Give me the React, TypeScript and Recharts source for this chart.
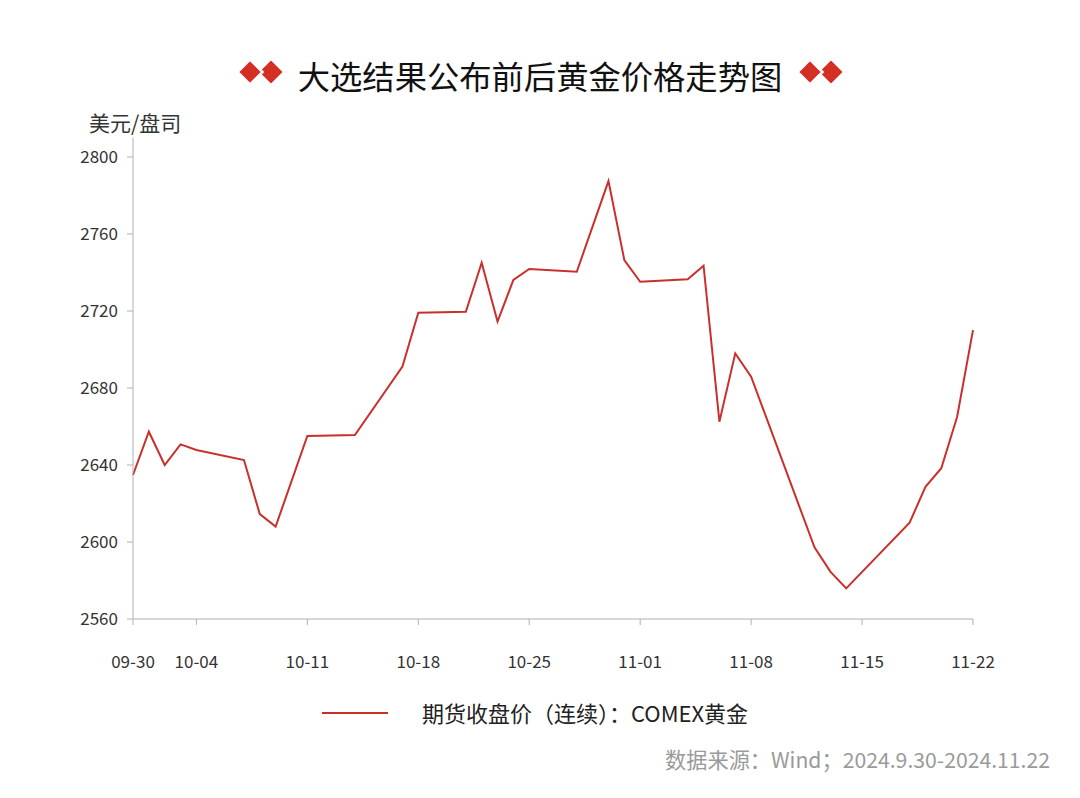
import React from 'react';
import { LineChart, Line, XAxis, YAxis } from 'recharts';

const dates = [
  '2024-09-30', '2024-10-01', '2024-10-02', '2024-10-03', '2024-10-04',
  '2024-10-07', '2024-10-08', '2024-10-09', '2024-10-11', '2024-10-14',
  '2024-10-17', '2024-10-18', '2024-10-21', '2024-10-22', '2024-10-23',
  '2024-10-24', '2024-10-25', '2024-10-28', '2024-10-30', '2024-10-31',
  '2024-11-01', '2024-11-04', '2024-11-05', '2024-11-06', '2024-11-07',
  '2024-11-08', '2024-11-12', '2024-11-13', '2024-11-14', '2024-11-18',
  '2024-11-19', '2024-11-20', '2024-11-21', '2024-11-22',
];
const closes = [
  2634.8, 2657.3, 2640.0, 2650.7, 2647.8,
  2642.6, 2614.5, 2608.0, 2655.1, 2655.6,
  2691.1, 2719.1, 2719.6, 2745.1, 2714.5,
  2736.1, 2741.8, 2740.4, 2787.5, 2746.5,
  2735.2, 2736.5, 2743.5, 2662.5, 2698.0,
  2685.9, 2597.2, 2584.6, 2575.9, 2610.0,
  2628.7, 2638.3, 2665.1, 2710.1,
];
const xTickDates = ['2024-09-30', '2024-10-04', '2024-10-11', '2024-10-18', '2024-10-25', '2024-11-01', '2024-11-08', '2024-11-15', '2024-11-22'];
const xTickLabels = ['09-30', '10-04', '10-11', '10-18', '10-25', '11-01', '11-08', '11-15', '11-22'];
const yTicks = [2560, 2600, 2640, 2680, 2720, 2760, 2800];

const START = Date.UTC(2024, 8, 30);
const dayOf = (s: string) => {
  const [y, m, d] = s.split('-').map(Number);
  return Math.round((Date.UTC(y, m - 1, d) - START) / 86400000);
};

const data = dates.map((d, i) => ({ day: dayOf(d), close: closes[i] }));
const xTicks = xTickDates.map(dayOf);
const labelMap: Record<number, string> = {};
xTicks.forEach((t, i) => { labelMap[t] = xTickLabels[i]; });

const FONT = '"Noto Sans CJK SC", "Noto Sans", sans-serif';
const RED = '#c9302c';
const AXIS = '#b0b0b0';

const Diamonds = ({ left, top }: { left: number; top: number }) => (
  <svg width={48} height={26} style={{ position: 'absolute', left, top }}>
    <polygon points="34,1.5 45.5,13 34,24.5 22.5,13" fill="#d42f25" />
    <polygon points="13,0.5 25.5,13 13,25.5 0.5,13" fill="#d42f25" stroke="#ffffff" strokeWidth={2.5} />
  </svg>
);

export default function App() {
  return (
    <div style={{ position: 'absolute', left: 0, top: 0, width: 1080, height: 798, background: '#ffffff', fontFamily: FONT }}>
      <Diamonds left={237} top={59} />
      <Diamonds left={797} top={59} />
      <div style={{ position: 'absolute', left: 0, top: 52, width: 1080, textAlign: 'center', fontSize: 32.3, color: '#111', lineHeight: '46px' }}>
        大选结果公布前后黄金价格走势图
      </div>
      <div style={{ position: 'absolute', left: 89, top: 107, fontSize: 21, color: '#333', lineHeight: '30px' }}>
        美元/盘司
      </div>
      <LineChart
        width={1080}
        height={798}
        data={data}
        margin={{ top: 137.75, right: 107, bottom: 119, left: 73 }}
        style={{ position: 'absolute', left: 0, top: 0 }}
      >
        <XAxis
          dataKey="day"
          type="number"
          domain={[0, 53]}
          ticks={xTicks}
          interval={0}
          tickFormatter={(v: number) => labelMap[v] ?? ''}
          stroke={AXIS}
          tickSize={6}
          tickMargin={31}
          height={60}
          tick={{ fill: '#333', fontSize: 17, fontFamily: FONT }}
        />
        <YAxis
          type="number"
          domain={[2560, 2810]}
          ticks={yTicks}
          interval={0}
          width={60}
          stroke={AXIS}
          tickSize={6}
          tickMargin={9}
          tick={{ fill: '#333', fontSize: 17, fontFamily: FONT }}
          allowDataOverflow
        />
        <Line
          type="linear"
          dataKey="close"
          stroke={RED}
          strokeWidth={2}
          dot={false}
          activeDot={false}
          isAnimationActive={false}
        />
      </LineChart>
      <div style={{ position: 'absolute', left: 322, top: 712, width: 66, height: 2, background: RED }} />
      <div style={{ position: 'absolute', left: 422, top: 697, fontSize: 22, color: '#222', lineHeight: '30px', whiteSpace: 'nowrap' }}>
        期货收盘价（连续）：COMEX黄金
      </div>
      <div style={{ position: 'absolute', right: 30, top: 744, fontSize: 21.2, color: '#9a9a9a', lineHeight: '30px', whiteSpace: 'nowrap' }}>
        数据来源：Wind；2024.9.30-2024.11.22
      </div>
    </div>
  );
}
